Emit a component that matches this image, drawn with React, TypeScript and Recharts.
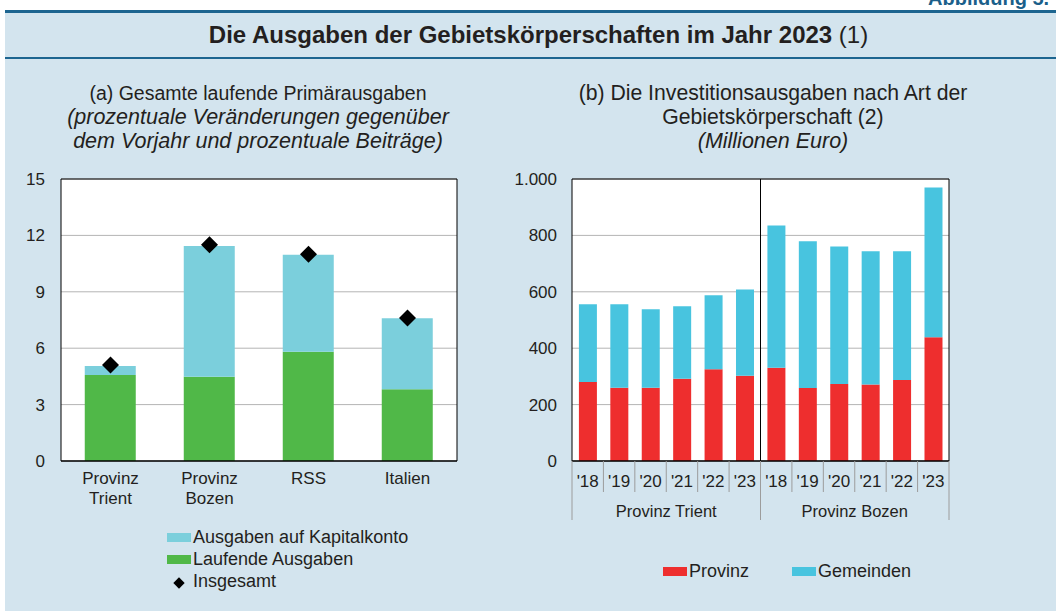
import React from 'react';
import { ComposedChart, BarChart, Bar, Line, XAxis, YAxis, CartesianGrid, ReferenceLine } from 'recharts';

// (a) prozentuale Veränderungen / Beiträge
const regionen = ['Provinz\nTrient', 'Provinz\nBozen', 'RSS', 'Italien'];
const laufende = [4.57, 4.48, 5.81, 3.81];
const kapital = [0.48, 6.96, 5.16, 3.78];
const insgesamt = [5.1, 11.5, 11.0, 7.6];
const ticksA = [0, 3, 6, 9, 12, 15];

// (b) Investitionsausgaben, Millionen Euro
const jahre = ["'18", "'19", "'20", "'21", "'22", "'23"];
const gruppen = ['Provinz Trient', 'Provinz Bozen'];
const provinzTrient = [280, 260, 260, 292, 325, 302];
const gemeindenTrient = [276, 296, 278, 257, 263, 306];
const provinzBozen = [331, 259, 273, 271, 287, 439];
const gemeindenBozen = [504, 520, 488, 473, 457, 531];
const ticksB = [0, 200, 400, 600, 800, 1000];

const TEXT = '#231f20';
const GREEN = '#50b848';
const LIGHTBLUE = '#7bcfdc';
const RED = '#ee2e2e';
const CYAN = '#48c4df';
const BG = '#d3e4ee';

const dataA = regionen.map((r, i) => ({
  name: r,
  laufende: laufende[i],
  kapital: kapital[i],
  insgesamt: insgesamt[i],
}));

const dataB = [
  ...jahre.map((j, i) => ({ key: 'T' + i, jahr: j, provinz: provinzTrient[i], gemeinden: gemeindenTrient[i] })),
  ...jahre.map((j, i) => ({ key: 'B' + i, jahr: j, provinz: provinzBozen[i], gemeinden: gemeindenBozen[i] })),
];

const fmt = (v: number) => String(v).replace(/\B(?=(\d{3})+(?!\d))/g, '.');

const Diamond = (props: any) => {
  const { cx, cy } = props;
  if (cx == null || cy == null) return null;
  const r = 8.5;
  return <path d={`M${cx},${cy - r}L${cx + r},${cy}L${cx},${cy + r}L${cx - r},${cy}Z`} fill="#000" />;
};

const RegionTick = (props: any) => {
  const { x, y, payload } = props;
  const lines = String(payload.value).split('\n');
  return (
    <text x={x} y={y} textAnchor="middle" fontSize={17} fill={TEXT}>
      {lines.map((l, i) => (
        <tspan key={i} x={x} y={y + 15 + i * 20}>{l}</tspan>
      ))}
    </text>
  );
};

const BAND_B = 377 / 12;

const YearTick = (props: any) => {
  const { x, y, index } = props;
  const off = props.payload && typeof props.payload.offset === 'number' && props.payload.offset > 0 ? props.payload.offset : BAND_B / 2;
  const d = dataB[index];
  if (!d) return null;
  const last = index % 6 === 5;
  return (
    <g>
      <text x={x} y={y + 26} textAnchor="middle" fontSize={17} fill={TEXT}>{d.jahr}</text>
      {index === 0 && <line x1={x - off} x2={x - off} y1={y} y2={y + 59} stroke="#9c9c9c" />}
      <line x1={x + off} x2={x + off} y1={y} y2={y + (last ? 59 : 31)} stroke="#9c9c9c" />
      {index % 6 === 2 && (
        <text x={x + off} y={y + 56} textAnchor="middle" fontSize={16.5} fill={TEXT}>
          {gruppen[Math.floor(index / 6)]}
        </text>
      )}
    </g>
  );
};

const Swatch = ({ color }: { color: string }) => (
  <span style={{ display: 'inline-block', width: 24, height: 9, background: color, marginRight: 2 }} />
);

export default function App() {
  return (
    <div
      style={{
        position: 'fixed', left: 0, top: 0, width: 1056, height: 611, overflow: 'hidden',
        background: '#fff', fontFamily: '"Liberation Sans", Arial, Helvetica, sans-serif', color: TEXT,
      }}
    >
      <div style={{ position: 'absolute', left: 5, top: 11, right: 0, bottom: 0, background: BG }} />
      <div style={{ position: 'absolute', left: 5, right: 0, top: 10, height: 3, background: '#1d6590' }} />
      <div style={{ position: 'absolute', left: 5, right: 0, top: 57, height: 2, background: '#1d6590' }} />
      <div style={{ position: 'absolute', left: 928, top: -12, lineHeight: '20px', fontSize: 20, fontWeight: 'bold', color: '#1b5f8a', whiteSpace: 'nowrap' }}>
        Abbildung 5.
      </div>
      <div style={{ position: 'absolute', left: 0, width: 1077, top: 20, lineHeight: '30px', fontSize: 24, textAlign: 'center', whiteSpace: 'nowrap' }}>
        <b>Die Ausgaben der Gebietskörperschaften im Jahr 2023</b> (1)
      </div>

      <div style={{ position: 'absolute', left: 20, width: 476, top: 81, lineHeight: '24px', fontSize: 19.5, textAlign: 'center', whiteSpace: 'nowrap' }}>
        <div>(a) Gesamte laufende Primärausgaben</div>
        <div style={{ fontStyle: 'italic', fontSize: 21.5 }}>(prozentuale Veränderungen gegenüber</div>
        <div style={{ fontStyle: 'italic', fontSize: 21.5 }}>dem Vorjahr und prozentuale Beiträge)</div>
      </div>
      <div style={{ position: 'absolute', left: 535, width: 476, top: 81, lineHeight: '24px', fontSize: 21.2, textAlign: 'center', whiteSpace: 'nowrap' }}>
        <div>(b) Die Investitionsausgaben nach Art der</div>
        <div>Gebietskörperschaft (2)</div>
        <div style={{ fontStyle: 'italic', fontSize: 21.5 }}>(Millionen Euro)</div>
      </div>

      <div style={{ position: 'absolute', left: 0, top: 160 }}>
        <ComposedChart width={520} height={361} data={dataA} margin={{ top: 19, right: 3, bottom: 0, left: 0 }} barCategoryGap="24%">
          <CartesianGrid vertical={false} stroke="#b4b4b4" fill="#fff" />
          <XAxis dataKey="name" height={60} interval={0} tick={<RegionTick />} tickLine={false} axisLine={{ stroke: '#000', strokeWidth: 1.5 }} />
          <YAxis width={61} domain={[0, 15]} ticks={ticksA} tickSize={0} tickMargin={16} tick={{ fill: TEXT, fontSize: 17 }} axisLine={{ stroke: '#000' }} />
          <YAxis yAxisId="r" orientation="right" width={60} domain={[0, 15]} ticks={ticksA} tickSize={0} tickMargin={16} tick={{ fill: TEXT, fontSize: 17, textAnchor: 'start' }} axisLine={{ stroke: '#000' }} />
          <ReferenceLine y={15} stroke="#000" />
          <Bar dataKey="laufende" stackId="a" fill={GREEN} isAnimationActive={false} />
          <Bar dataKey="kapital" stackId="a" fill={LIGHTBLUE} isAnimationActive={false} />
          <Line dataKey="insgesamt" stroke="none" dot={<Diamond />} activeDot={false} isAnimationActive={false} />
        </ComposedChart>
      </div>

      <div style={{ position: 'absolute', left: 500, top: 160 }}>
        <BarChart width={520} height={371} data={dataB} margin={{ top: 19, right: 0, bottom: 0, left: 0 }} barCategoryGap="22%">
          <CartesianGrid vertical={false} stroke="#b4b4b4" fill="#fff" />
          <XAxis dataKey="key" height={70} interval={0} tick={<YearTick />} tickSize={0} tickMargin={0} tickLine={false} axisLine={{ stroke: '#000', strokeWidth: 1.5 }} />
          <YAxis width={72} domain={[0, 1000]} ticks={ticksB} tickFormatter={fmt} tickSize={0} tickMargin={15} tick={{ fill: TEXT, fontSize: 17 }} axisLine={{ stroke: '#000' }} />
          <YAxis yAxisId="r" orientation="right" width={71} domain={[0, 1000]} ticks={ticksB} tickFormatter={fmt} tickSize={0} tickMargin={15} tick={{ fill: TEXT, fontSize: 17, textAnchor: 'start' }} axisLine={{ stroke: '#000' }} />
          <ReferenceLine y={1000} stroke="#000" />
          <ReferenceLine x="B0" position="start" stroke="#000" />
          <Bar dataKey="provinz" stackId="b" fill={RED} isAnimationActive={false} />
          <Bar dataKey="gemeinden" stackId="b" fill={CYAN} isAnimationActive={false} />
        </BarChart>
      </div>

      <div style={{ position: 'absolute', left: 167, top: 526, fontSize: 18, lineHeight: '22px' }}>
        <div style={{ display: 'flex', alignItems: 'center' }}><Swatch color={LIGHTBLUE} />Ausgaben auf Kapitalkonto</div>
        <div style={{ display: 'flex', alignItems: 'center' }}><Swatch color={GREEN} />Laufende Ausgaben</div>
        <div style={{ display: 'flex', alignItems: 'center' }}>
          <span style={{ display: 'inline-block', width: 24, textAlign: 'center', marginRight: 2 }}>
            <span style={{ display: 'inline-block', width: 8, height: 8, background: '#000', transform: 'rotate(45deg)' }} />
          </span>
          Insgesamt
        </div>
      </div>

      <div style={{ position: 'absolute', left: 663, top: 560, fontSize: 18, lineHeight: '22px', display: 'flex', alignItems: 'center' }}>
        <Swatch color={RED} />Provinz
        <span style={{ display: 'inline-block', width: 43 }} />
        <Swatch color={CYAN} />Gemeinden
      </div>
    </div>
  );
}
